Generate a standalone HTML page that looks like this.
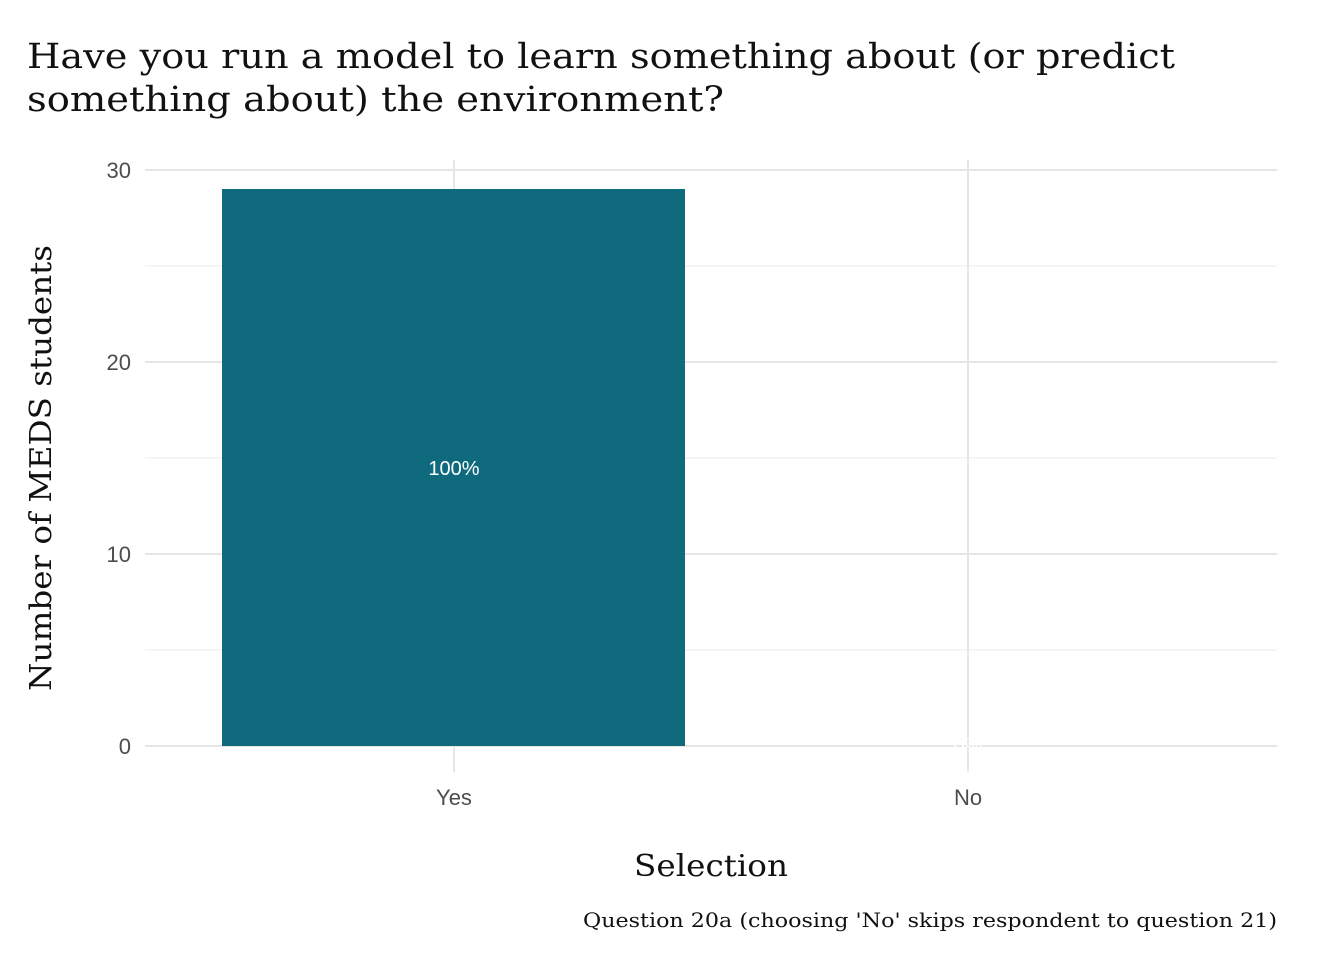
<!DOCTYPE html>
<html><head><meta charset="utf-8"><style>html,body{margin:0;padding:0;background:#fff}</style></head>
<body>
<svg width="1344" height="960" xmlns="http://www.w3.org/2000/svg">
<rect width="1344" height="960" fill="#fff"/>
<g font-family="DejaVu Serif, Liberation Serif, serif" fill="#111">
<text x="27" y="68" font-size="35" textLength="1148" lengthAdjust="spacingAndGlyphs">Have you run a model to learn something about (or predict</text>
<text x="27" y="111" font-size="35" textLength="697" lengthAdjust="spacingAndGlyphs">something about) the environment?</text>
</g>
<g stroke="#ebebeb" stroke-width="1">
<line x1="145" x2="1277" y1="266" y2="266"/>
<line x1="145" x2="1277" y1="458" y2="458"/>
<line x1="145" x2="1277" y1="650" y2="650"/>
</g>
<g stroke="#e6e6e6" stroke-width="2">
<line x1="145" x2="1277" y1="170" y2="170"/>
<line x1="145" x2="1277" y1="362" y2="362"/>
<line x1="145" x2="1277" y1="554" y2="554"/>
<line x1="145" x2="1277" y1="746" y2="746"/>
<line x1="454" x2="454" y1="160" y2="772"/>
<line x1="968" x2="968" y1="160" y2="772"/>
</g>
<rect x="222" y="189" width="463" height="557" fill="#0f6a7e"/>
<text x="454" y="475" font-family="Liberation Sans, sans-serif" font-size="20" fill="#fff" text-anchor="middle">100%</text>
<text x="968" y="752" font-family="Liberation Sans, sans-serif" font-size="20" fill="#fff" text-anchor="middle">0%</text>
<g font-family="Liberation Sans, sans-serif" font-size="22" fill="#4d4d4d">
<text x="131" y="178" text-anchor="end">30</text>
<text x="131" y="370" text-anchor="end">20</text>
<text x="131" y="562" text-anchor="end">10</text>
<text x="131" y="754" text-anchor="end">0</text>
<text x="454" y="805" text-anchor="middle">Yes</text>
<text x="968" y="805" text-anchor="middle">No</text>
</g>
<g font-family="DejaVu Serif, Liberation Serif, serif" fill="#111">
<text x="711" y="876" font-size="30" text-anchor="middle" textLength="154" lengthAdjust="spacingAndGlyphs">Selection</text>
<text transform="translate(51,468) rotate(-90)" font-size="30" text-anchor="middle" textLength="446" lengthAdjust="spacingAndGlyphs">Number of MEDS students</text>
<text x="1277" y="927" font-size="20" text-anchor="end" textLength="694" lengthAdjust="spacingAndGlyphs">Question 20a (choosing 'No' skips respondent to question 21)</text>
</g>
</svg>
</body></html>
